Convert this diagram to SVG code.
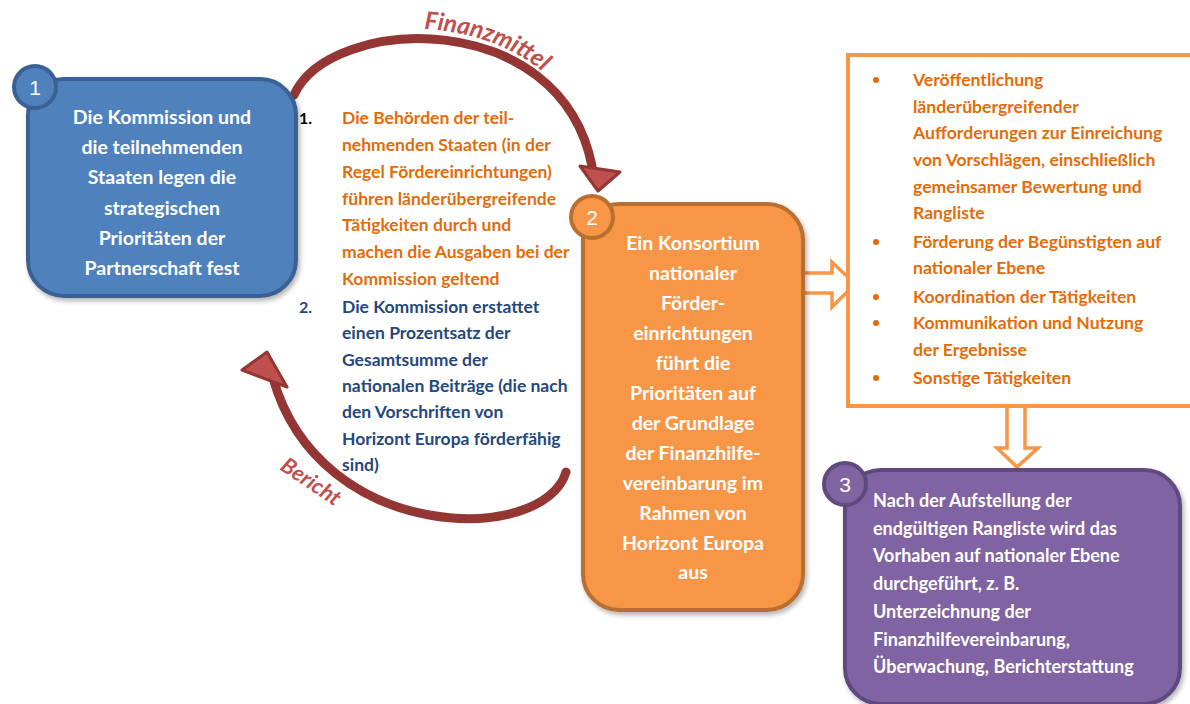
<svg xmlns="http://www.w3.org/2000/svg" width="1190" height="704" viewBox="0 0 1190 704">
<defs>
<style>
.t{font-family:Lato,"Open Sans","Liberation Sans",sans-serif;font-weight:bold}
.w{fill:#ffffff}
.bc{font-family:"Liberation Sans",Lato,sans-serif;font-weight:normal;fill:#ffffff;font-size:21px}
.or{fill:#e36c09;font-size:17.5px}
.bl{fill:#24487e;font-size:17.5px}
.rb{fill:#e36c09;font-size:17.6px}
.lbl{font-family:Lato,"Liberation Sans",sans-serif;font-weight:bold;font-style:italic;fill:#c0504d}
.shaft{fill:none;stroke:#943634;stroke-width:9;stroke-linecap:round}
.head{fill:#c0504d;stroke:#943634;stroke-width:3;stroke-linejoin:round}
.blk{fill:#ffffff;stroke:#f79646;stroke-width:3.5;stroke-linejoin:miter}
</style>
<filter id="sh" x="-10%" y="-10%" width="130%" height="130%">
<feDropShadow dx="2" dy="3" stdDeviation="2.5" flood-color="#000" flood-opacity="0.3"/>
</filter>
<path id="fpath" d="M 424 29 Q 512 34 564 92"/>
</defs>

<g id="connectors">
<path class="shaft" d="M 294 95 C 330 15, 560 5, 592 166"/>
<polygon class="head" points="580,166 620,172 598,191"/>
<path class="shaft" d="M 566 472 C 545 545, 320 545, 273 378"/>
<polygon class="head" points="242,370 267,352 287,387"/>
<polygon class="blk" points="803,273 832,273 832,262 855,284 832,307 832,293 803,293"/>
<polygon class="blk" points="1007,403 1025,403 1025,448 1038,448 1017,467 997,448 1007,448"/>
<text class="lbl" font-size="24.5"><textPath href="#fpath">Finanzmittel</textPath></text>
<text class="lbl" font-size="22" transform="translate(279,469) rotate(34)">Bericht</text>
</g>

<g id="node1">
<rect x="28" y="79" width="268" height="217" rx="36" fill="#4f81bd" stroke="#3a6194" stroke-width="4" filter="url(#sh)"/>
<circle cx="35" cy="87" r="21" fill="#4f81bd" stroke="#3a6194" stroke-width="4"/>
<text class="bc" x="35" y="95" text-anchor="middle">1</text>
<g class="t w" font-size="19.5" text-anchor="middle">
<text x="162" y="124">Die Kommission und</text>
<text x="162" y="154">die teilnehmenden</text>
<text x="162" y="184">Staaten legen die</text>
<text x="162" y="215">strategischen</text>
<text x="162" y="245">Prioritäten der</text>
<text x="162" y="275">Partnerschaft fest</text>
</g>
</g>

<g id="list">
<text class="t" x="299" y="124" font-size="16" fill="#000">1.</text>
<g class="t or">
<text x="342" y="124">Die Behörden der teil-</text>
<text x="342" y="151">nehmenden Staaten (in der</text>
<text x="342" y="178">Regel Fördereinrichtungen)</text>
<text x="342" y="205">führen länderübergreifende</text>
<text x="342" y="231">Tätigkeiten durch und</text>
<text x="342" y="258">machen die Ausgaben bei der</text>
<text x="342" y="285">Kommission geltend</text>
</g>
<text class="t" x="299" y="313" font-size="16" fill="#24487e">2.</text>
<g class="t bl">
<text x="342" y="313">Die Kommission erstattet</text>
<text x="342" y="339">einen Prozentsatz der</text>
<text x="342" y="366">Gesamtsumme der</text>
<text x="342" y="392">nationalen Beiträge (die nach</text>
<text x="342" y="418">den Vorschriften von</text>
<text x="342" y="445">Horizont Europa förderfähig</text>
<text x="342" y="471">sind)</text>
</g>
</g>

<g id="node2">
<rect x="583" y="204" width="220" height="406" rx="36" fill="#f79646" stroke="#b86f30" stroke-width="4" filter="url(#sh)"/>
<circle cx="592" cy="217" r="21" fill="#f79646" stroke="#b86f30" stroke-width="4"/>
<text class="bc" x="592" y="225" text-anchor="middle">2</text>
<g class="t w" font-size="19.5" text-anchor="middle">
<text x="693" y="250">Ein Konsortium</text>
<text x="693" y="280">nationaler</text>
<text x="693" y="310">Förder-</text>
<text x="693" y="340">einrichtungen</text>
<text x="693" y="370">führt die</text>
<text x="693" y="400">Prioritäten auf</text>
<text x="693" y="430">der Grundlage</text>
<text x="693" y="460">der Finanzhilfe-</text>
<text x="693" y="490">vereinbarung im</text>
<text x="693" y="520">Rahmen von</text>
<text x="693" y="550">Horizont Europa</text>
<text x="693" y="579">aus</text>
</g>
</g>

<g id="activities">
<rect x="848" y="55" width="360" height="351" fill="#ffffff" stroke="#f79646" stroke-width="4"/>
<g fill="#e36c09">
<circle cx="876" cy="80" r="3"/>
<circle cx="876" cy="242" r="3"/>
<circle cx="876" cy="297" r="3"/>
<circle cx="876" cy="323" r="3"/>
<circle cx="876" cy="378" r="3"/>
</g>
<g class="t rb">
<text x="913" y="86">Veröffentlichung</text>
<text x="913" y="113">länderübergreifender</text>
<text x="913" y="139">Aufforderungen zur Einreichung</text>
<text x="913" y="166">von Vorschlägen, einschließlich</text>
<text x="913" y="193">gemeinsamer Bewertung und</text>
<text x="913" y="219">Rangliste</text>
<text x="913" y="248">Förderung der Begünstigten auf</text>
<text x="913" y="274">nationaler Ebene</text>
<text x="913" y="303">Koordination der Tätigkeiten</text>
<text x="913" y="329">Kommunikation und Nutzung</text>
<text x="913" y="356">der Ergebnisse</text>
<text x="913" y="384">Sonstige Tätigkeiten</text>
</g>
</g>

<g id="node3">
<rect x="845" y="470" width="335" height="234" rx="36" fill="#8064a2" stroke="#5e4a7e" stroke-width="4" filter="url(#sh)"/>
<circle cx="845" cy="484" r="21" fill="#8064a2" stroke="#5e4a7e" stroke-width="4"/>
<text class="bc" x="845" y="492" text-anchor="middle">3</text>
<g class="t w" font-size="18">
<text x="873" y="507">Nach der Aufstellung der</text>
<text x="873" y="535">endgültigen Rangliste wird das</text>
<text x="873" y="562">Vorhaben auf nationaler Ebene</text>
<text x="873" y="590">durchgeführt, z. B.</text>
<text x="873" y="618">Unterzeichnung der</text>
<text x="873" y="646">Finanzhilfevereinbarung,</text>
<text x="873" y="673">Überwachung, Berichterstattung</text>
</g>
</g>
</svg>
